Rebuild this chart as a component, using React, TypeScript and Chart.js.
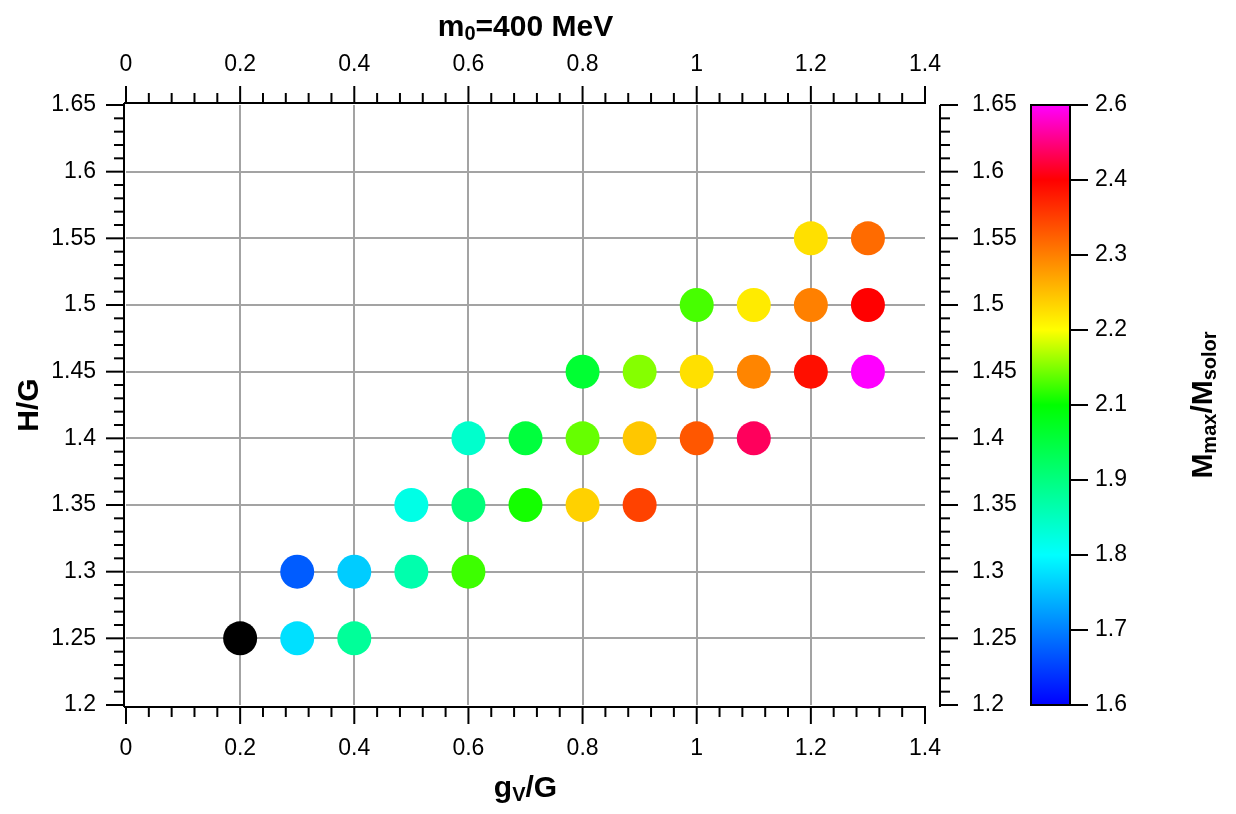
import { useEffect, useRef } from 'react';
import { Chart, registerables } from 'chart.js';

Chart.register(...registerables);

// grid points (gV/G, H/G) and the max mass at each of them
const gV = [
  0.2, 0.3, 0.4,
  0.3, 0.4, 0.5, 0.6,
  0.5, 0.6, 0.7, 0.8, 0.9,
  0.6, 0.7, 0.8, 0.9, 1.0, 1.1,
  0.8, 0.9, 1.0, 1.1, 1.2, 1.3,
  1.0, 1.1, 1.2, 1.3,
  1.2, 1.3,
];
const hG = [
  1.25, 1.25, 1.25,
  1.3, 1.3, 1.3, 1.3,
  1.35, 1.35, 1.35, 1.35, 1.35,
  1.4, 1.4, 1.4, 1.4, 1.4, 1.4,
  1.45, 1.45, 1.45, 1.45, 1.45, 1.45,
  1.5, 1.5, 1.5, 1.5,
  1.55, 1.55,
];
const mMax = [
  1.55, 1.82, 1.95,
  1.69, 1.8, 1.93, 2.13,
  1.875, 1.98, 2.11, 2.27, 2.41,
  1.9, 2.04, 2.15, 2.28, 2.39, 2.52,
  2.05, 2.165, 2.255, 2.345, 2.46, 2.6,
  2.135, 2.245, 2.35, 2.475,
  2.255, 2.37,
];

const xTicks = [0, 0.2, 0.4, 0.6, 0.8, 1, 1.2, 1.4];
const xTickLabels = ['0', '0.2', '0.4', '0.6', '0.8', '1', '1.2', '1.4'];
const yTicks = [1.2, 1.25, 1.3, 1.35, 1.4, 1.45, 1.5, 1.55, 1.6, 1.65];
const yTickLabels = ['1.2', '1.25', '1.3', '1.35', '1.4', '1.45', '1.5', '1.55', '1.6', '1.65'];
const cbarTicks = [1.6, 1.725, 1.85, 1.975, 2.1, 2.225, 2.35, 2.475, 2.6];
const cbarTickLabels = ['1.6', '1.7', '1.8', '1.9', '2.1', '2.2', '2.3', '2.4', '2.6'];
const cMin = 1.6;
const cMax = 2.6;

const FONT = '"Liberation Sans", Arial, Helvetica, sans-serif';

// blue -> cyan -> green -> yellow -> red -> magenta
const stops: [number, number[]][] = [
  [0, [0, 0, 255]],
  [0.25, [0, 255, 255]],
  [0.5, [0, 255, 0]],
  [0.625, [255, 255, 0]],
  [0.875, [255, 0, 0]],
  [1, [255, 0, 255]],
];

function colorFor(m: number) {
  const t = (m - cMin) / (cMax - cMin);
  if (t < 0) return '#000000';
  if (t >= 1) return 'rgb(255,0,255)';
  for (let i = 1; i < stops.length; i++) {
    const [t1, c1] = stops[i];
    const [t0, c0] = stops[i - 1];
    if (t <= t1) {
      const f = (t - t0) / (t1 - t0);
      const c = c0.map((v, k) => Math.round(v + (c1[k] - v) * f));
      return `rgb(${c[0]},${c[1]},${c[2]})`;
    }
  }
  return '#000000';
}

type Seg = { t: string; sub?: boolean };

function drawRich(ctx: CanvasRenderingContext2D, segs: Seg[], cx: number, cy: number, rot: number) {
  const main = `bold 30px ${FONT}`;
  const sub = `bold 20px ${FONT}`;
  let w = 0;
  for (const s of segs) {
    ctx.font = s.sub ? sub : main;
    w += ctx.measureText(s.t).width;
  }
  ctx.save();
  ctx.translate(cx, cy);
  ctx.rotate(rot);
  ctx.fillStyle = '#000';
  ctx.textBaseline = 'alphabetic';
  ctx.textAlign = 'left';
  let x = -w / 2;
  for (const s of segs) {
    ctx.font = s.sub ? sub : main;
    ctx.fillText(s.t, x, s.sub ? 4 : 0);
    x += ctx.measureText(s.t).width;
  }
  ctx.restore();
}

const framePlugin = {
  id: 'frame',
  afterDraw(chart: any) {
    const { ctx, chartArea: a, scales } = chart;
    const xs = scales.x;
    const ys = scales.y;
    const line = (x0: number, y0: number, x1: number, y1: number) => {
      ctx.beginPath();
      ctx.moveTo(x0, y0);
      ctx.lineTo(x1, y1);
      ctx.stroke();
    };
    ctx.save();
    ctx.strokeStyle = '#000';
    ctx.lineWidth = 2;
    const L = a.left - 2;
    const B = a.bottom + 2;
    const T = a.top - 2;
    const R = a.right + 15;
    line(L, T, L, B);
    line(L, B, a.right + 1, B);
    line(L, T, a.right + 1, T);
    line(R, a.top, R, B);

    // major + minor ticks, pointing out
    for (let k = 0; k <= 35; k++) {
      const px = xs.getPixelForValue(k * 0.04);
      const len = k % 5 === 0 ? 17 : 10;
      line(px, B, px, B + len);
      line(px, T, px, T - len);
    }
    for (let k = 0; k <= 45; k++) {
      const py = ys.getPixelForValue(1.2 + k * 0.01);
      const len = k % 5 === 0 ? 18 : 10;
      line(L, py, L - len, py);
      line(R, py, R + len, py);
    }

    // colour bar
    const c = scales.c;
    const bx0 = c.left;
    const bx1 = c.left + 39;
    const by0 = c.getPixelForValue(cMax);
    const by1 = c.getPixelForValue(cMin);
    const g = ctx.createLinearGradient(0, by1, 0, by0);
    for (const [t, col] of stops) g.addColorStop(t, `rgb(${col[0]},${col[1]},${col[2]})`);
    ctx.fillStyle = g;
    ctx.fillRect(bx0, by0, bx1 - bx0, by1 - by0);
    ctx.strokeRect(bx0, by0, bx1 - bx0, by1 - by0);
    for (const v of cbarTicks) {
      const py = c.getPixelForValue(v);
      line(bx1, py, bx1 + 18, py);
    }
    ctx.restore();

    const midX = (a.left + a.right) / 2;
    const midY = (a.top + a.bottom) / 2;
    drawRich(ctx, [{ t: 'm' }, { t: '0', sub: true }, { t: '=400 MeV' }], midX, 36, 0);
    drawRich(ctx, [{ t: 'g' }, { t: 'V', sub: true }, { t: '/G' }], midX, 797, 0);
    drawRich(ctx, [{ t: 'H/G' }], 38, midY, -Math.PI / 2);
    drawRich(
      ctx,
      [{ t: 'M' }, { t: 'max', sub: true }, { t: '/M' }, { t: 'solor', sub: true }],
      1212,
      midY,
      -Math.PI / 2
    );
  },
};

const tickFont = { family: FONT, size: 23 };

function fixedTicks(values: number[]) {
  return (scale: any) => {
    scale.ticks = values.map((v) => ({ value: v }));
  };
}

function edgeless(count: number) {
  return (ctx: any) => (ctx.index === 0 || ctx.index === count - 1 ? 'rgba(0,0,0,0)' : '#a3a3a3');
}

export function MassScatter() {
  const canvasRef = useRef<HTMLCanvasElement>(null);
  const chartRef = useRef<Chart | null>(null);

  useEffect(() => {
    document.body.style.margin = '0';
    if (!canvasRef.current) return;
    if (chartRef.current) chartRef.current.destroy();

    chartRef.current = new Chart(canvasRef.current, {
      type: 'scatter',
      data: {
        datasets: [
          {
            data: gV.map((x, i) => ({ x, y: hG[i] })),
            pointRadius: 17,
            pointHoverRadius: 17,
            pointBorderWidth: 0,
            pointBackgroundColor: mMax.map(colorFor),
            showLine: false,
          },
        ],
      },
      options: {
        responsive: false,
        animation: false,
        events: [],
        layout: { padding: 0 },
        plugins: { legend: { display: false }, tooltip: { enabled: false } },
        scales: {
          x: {
            type: 'linear',
            position: 'bottom',
            min: 0,
            max: 1.4,
            afterBuildTicks: fixedTicks(xTicks),
            afterFit: (s: any) => { s.height = 109; },
            grid: { color: edgeless(xTicks.length), lineWidth: 2, drawTicks: false },
            border: { display: false },
            ticks: { font: tickFont, color: '#000', padding: 30, maxRotation: 0, callback: (_v: any, i: number) => xTickLabels[i] },
          },
          x2: {
            type: 'linear',
            position: 'top',
            min: 0,
            max: 1.4,
            afterBuildTicks: fixedTicks(xTicks),
            afterFit: (s: any) => { s.height = 105; },
            grid: { display: false, drawTicks: false },
            border: { display: false },
            ticks: { font: tickFont, color: '#000', padding: 27, maxRotation: 0, callback: (_v: any, i: number) => xTickLabels[i] },
          },
          y: {
            type: 'linear',
            position: 'left',
            min: 1.2,
            max: 1.65,
            afterBuildTicks: fixedTicks(yTicks),
            afterFit: (s: any) => { s.width = 126; },
            grid: { color: edgeless(yTicks.length), lineWidth: 2, drawTicks: false },
            border: { display: false },
            ticks: { font: tickFont, color: '#000', padding: 30, callback: (_v: any, i: number) => yTickLabels[i] },
          },
          y2: {
            type: 'linear',
            position: 'right',
            weight: 1,
            min: 1.2,
            max: 1.65,
            afterBuildTicks: fixedTicks(yTicks),
            afterFit: (s: any) => { s.width = 106; },
            grid: { display: false, drawTicks: false },
            border: { display: false },
            ticks: { font: tickFont, color: '#000', padding: 47, callback: (_v: any, i: number) => yTickLabels[i] },
          },
          c: {
            type: 'linear',
            position: 'right',
            weight: 2,
            min: cMin,
            max: cMax,
            afterBuildTicks: fixedTicks(cbarTicks),
            afterFit: (s: any) => { s.width = 205; },
            grid: { display: false, drawTicks: false },
            border: { display: false },
            ticks: { font: tickFont, color: '#000', padding: 64, callback: (_v: any, i: number) => cbarTickLabels[i] },
          },
        },
      },
      plugins: [framePlugin],
    } as any);

    return () => {
      if (chartRef.current) {
        chartRef.current.destroy();
        chartRef.current = null;
      }
    };
  }, []);

  return <canvas ref={canvasRef} width={1236} height={814} style={{ display: 'block' }} />;
}

export default function App() {
  return <MassScatter />;
}
